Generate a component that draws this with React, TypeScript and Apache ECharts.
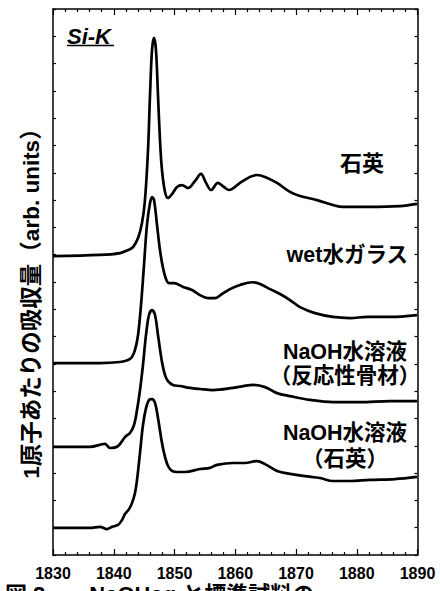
import React, { useEffect, useRef } from "react";
import * as echarts from "echarts";

// Energy (eV) tick labels
const xTicks = [1830, 1840, 1850, 1860, 1870, 1880, 1890];

// Spectra: [energy (eV), absorption (arb. units, vertically offset)]
const quartz: [number, number][] = [
  [1830.0, 10.95], [1837.74, 10.99], [1841.03, 11.06], [1842.35, 11.17], [1843.17, 11.28],
  [1844.0, 11.61], [1844.65, 12.16], [1845.14, 13.0], [1845.64, 14.84], [1845.97, 16.85],
  [1846.3, 18.5], [1846.63, 18.94], [1846.95, 18.5], [1847.28, 16.85], [1847.61, 15.2],
  [1847.94, 14.1], [1848.44, 13.3], [1848.93, 13.08], [1849.59, 13.22], [1850.41, 13.48],
  [1851.23, 13.55], [1852.22, 13.44], [1853.37, 13.7], [1854.36, 13.96], [1855.19, 13.63],
  [1856.01, 13.37], [1857.16, 13.63], [1858.15, 13.48], [1858.97, 13.37], [1860.78, 13.63],
  [1862.43, 13.85], [1863.58, 13.92], [1864.9, 13.85], [1866.87, 13.63], [1869.01, 13.3],
  [1870.66, 13.15], [1873.46, 13.0], [1876.09, 12.82], [1877.74, 12.75], [1882.18, 12.75],
  [1887.12, 12.78], [1889.92, 12.86],
];

const wetGlass: [number, number][] = [
  [1830.0, 7.03], [1837.74, 7.03], [1841.03, 7.07], [1842.35, 7.14], [1843.0, 7.25],
  [1843.5, 7.51], [1844.0, 8.06], [1844.49, 9.16], [1844.98, 10.62], [1845.47, 12.09],
  [1845.97, 12.89], [1846.3, 13.11], [1846.63, 13.0], [1847.12, 12.09], [1847.61, 11.17],
  [1848.11, 10.51], [1848.6, 10.11], [1849.09, 9.96], [1849.92, 9.96], [1851.4, 9.82],
  [1852.88, 9.71], [1854.2, 9.52], [1855.51, 9.41], [1856.67, 9.41], [1857.82, 9.56],
  [1859.14, 9.74], [1860.78, 9.89], [1862.76, 9.99], [1864.07, 9.93], [1865.72, 9.74],
  [1867.37, 9.56], [1869.01, 9.34], [1870.66, 9.08], [1873.13, 8.86], [1876.09, 8.72],
  [1878.89, 8.68], [1881.69, 8.72], [1885.47, 8.72], [1889.92, 8.79],
];

const naohReactive: [number, number][] = [
  [1830.0, 3.96], [1836.09, 3.96], [1838.56, 4.07], [1839.38, 3.92], [1840.7, 3.99],
  [1841.85, 4.32], [1842.67, 4.47], [1843.33, 4.76], [1843.83, 5.31], [1844.32, 6.04],
  [1844.81, 6.96], [1845.31, 8.06], [1845.8, 8.79], [1846.3, 8.97], [1846.79, 8.79],
  [1847.28, 8.06], [1847.94, 7.07], [1848.44, 6.59], [1848.93, 6.37], [1849.75, 6.23],
  [1850.91, 6.19], [1852.55, 6.12], [1854.2, 6.08], [1856.34, 6.04], [1859.63, 6.12],
  [1862.92, 6.23], [1864.9, 6.15], [1866.87, 5.93], [1869.01, 5.82], [1872.3, 5.68],
  [1876.09, 5.6], [1880.53, 5.6], [1885.47, 5.64], [1889.92, 5.64],
];

const naohQuartz: [number, number][] = [
  [1830.0, 0.99], [1836.09, 0.99], [1837.74, 1.03], [1838.89, 0.95], [1839.71, 1.03],
  [1840.7, 1.1], [1841.36, 1.28], [1841.85, 1.5], [1842.51, 1.68], [1843.0, 1.9],
  [1843.5, 2.27], [1843.83, 2.75], [1844.32, 3.74], [1844.81, 4.76], [1845.31, 5.38],
  [1845.8, 5.68], [1846.3, 5.71], [1846.79, 5.57], [1847.28, 5.02], [1847.94, 4.1],
  [1848.44, 3.59], [1848.93, 3.26], [1849.59, 3.08], [1850.41, 3.04], [1851.73, 3.04],
  [1854.2, 3.15], [1855.84, 3.19], [1857.0, 3.3], [1859.63, 3.37], [1861.6, 3.37],
  [1863.58, 3.44], [1864.9, 3.33], [1866.87, 3.08], [1869.01, 2.97], [1871.48, 2.89],
  [1873.95, 2.82], [1876.09, 2.71], [1878.89, 2.71], [1882.18, 2.75], [1886.3, 2.78],
  [1889.92, 2.86],
];

const seriesList = [quartz, wetGlass, naohReactive, naohQuartz];

const CJK = '"Liberation Sans", "Noto Sans CJK JP", sans-serif';
const LAT = '"Liberation Sans", Arial, sans-serif';

export default function App() {
  const ref = useRef<HTMLDivElement>(null);
  useEffect(() => {
    if (!ref.current) return;
    const chart = echarts.init(ref.current, undefined, { renderer: "svg" });
    const xAxisBase = {
      type: "value" as const,
      min: xTicks[0],
      max: xTicks[xTicks.length - 1],
      interval: 10,
      axisLine: { show: true, onZero: false, lineStyle: { color: "#000", width: 1.5 } },
      axisTick: { show: true, inside: true, length: 6, lineStyle: { color: "#000", width: 1.2 } },
      minorTick: { show: true, splitNumber: 5, length: 3, lineStyle: { color: "#000", width: 1.2 } },
      splitLine: { show: false },
      minorSplitLine: { show: false },
    };
    const yAxisBase = {
      type: "value" as const,
      min: 0,
      max: 20,
      interval: 1,
      axisLine: { show: true, onZero: false, lineStyle: { color: "#000", width: 1.5 } },
      axisTick: { show: true, inside: true, length: 3, lineStyle: { color: "#000", width: 1.2 } },
      axisLabel: { show: false },
      splitLine: { show: false },
    };
    const lbl = (text: string, x: number, y: number, size: number, align: string, lineHeight = size) => ({
      type: "text",
      x,
      y,
      style: { text, fontSize: size, lineHeight, fontWeight: "bold", fontFamily: CJK, fill: "#000", align, verticalAlign: "middle" },
    });
    chart.setOption({
      animation: false,
      backgroundColor: "#fff",
      grid: { left: 53, right: 22.5, top: 9, bottom: 36, containLabel: false },
      xAxis: [
        {
          ...xAxisBase,
          position: "bottom",
          axisLabel: {
            show: true,
            color: "#000",
            fontSize: 16,
            lineHeight: 16,
            fontWeight: "bold",
            fontFamily: LAT,
            margin: 10,
            showMaxLabel: true,
            showMinLabel: true,
            formatter: (v: number) => String(v),
          },
        },
        { ...xAxisBase, position: "top", axisLabel: { show: false } },
      ],
      yAxis: [
        { ...yAxisBase, position: "left" },
        { ...yAxisBase, position: "right" },
      ],
      series: seriesList.map((d) => ({
        type: "line",
        data: d,
        xAxisIndex: 0,
        yAxisIndex: 0,
        showSymbol: false,
        smooth: 0.35,
        lineStyle: { color: "#000", width: 2.7 },
      })),
      graphic: [
        {
          type: "text",
          x: 67,
          y: 36,
          style: { text: "Si-K", fontSize: 22, fontWeight: "bold", fontStyle: "italic", fontFamily: LAT, fill: "#000", align: "left", verticalAlign: "middle" },
        },
        { type: "line", shape: { x1: 67, y1: 45.5, x2: 114, y2: 45.5 }, style: { stroke: "#000", lineWidth: 1.5 } },
        lbl("石英", 362, 163, 22, "center"),
        lbl("wet水ガラス", 408, 255, 21.5, "right"),
        lbl("NaOH水溶液\n（反応性骨材）", 345, 364, 21.5, "center", 24),
        lbl("NaOH水溶液\n（石英）", 345, 446, 21.5, "center", 26),
        {
          type: "text",
          x: 31,
          y: 298,
          rotation: Math.PI / 2,
          style: { text: "1原子あたりの吸収量（arb. units）", fontSize: 22.5, fontWeight: "bold", fontFamily: CJK, fill: "#000", align: "center", verticalAlign: "middle" },
        },
        {
          type: "text",
          x: 5,
          y: 583,
          style: { text: "図 2　　NaOHaq と標準試料の", fontSize: 22, lineHeight: 22, fontWeight: "bold", fontFamily: CJK, fill: "#000", align: "left", verticalAlign: "top" },
        },
      ],
    });
    return () => chart.dispose();
  }, []);
  return (
    <div
      ref={ref}
      style={{ position: "absolute", left: 0, top: 0, width: 440, height: 591, background: "#fff" }}
    />
  );
}
